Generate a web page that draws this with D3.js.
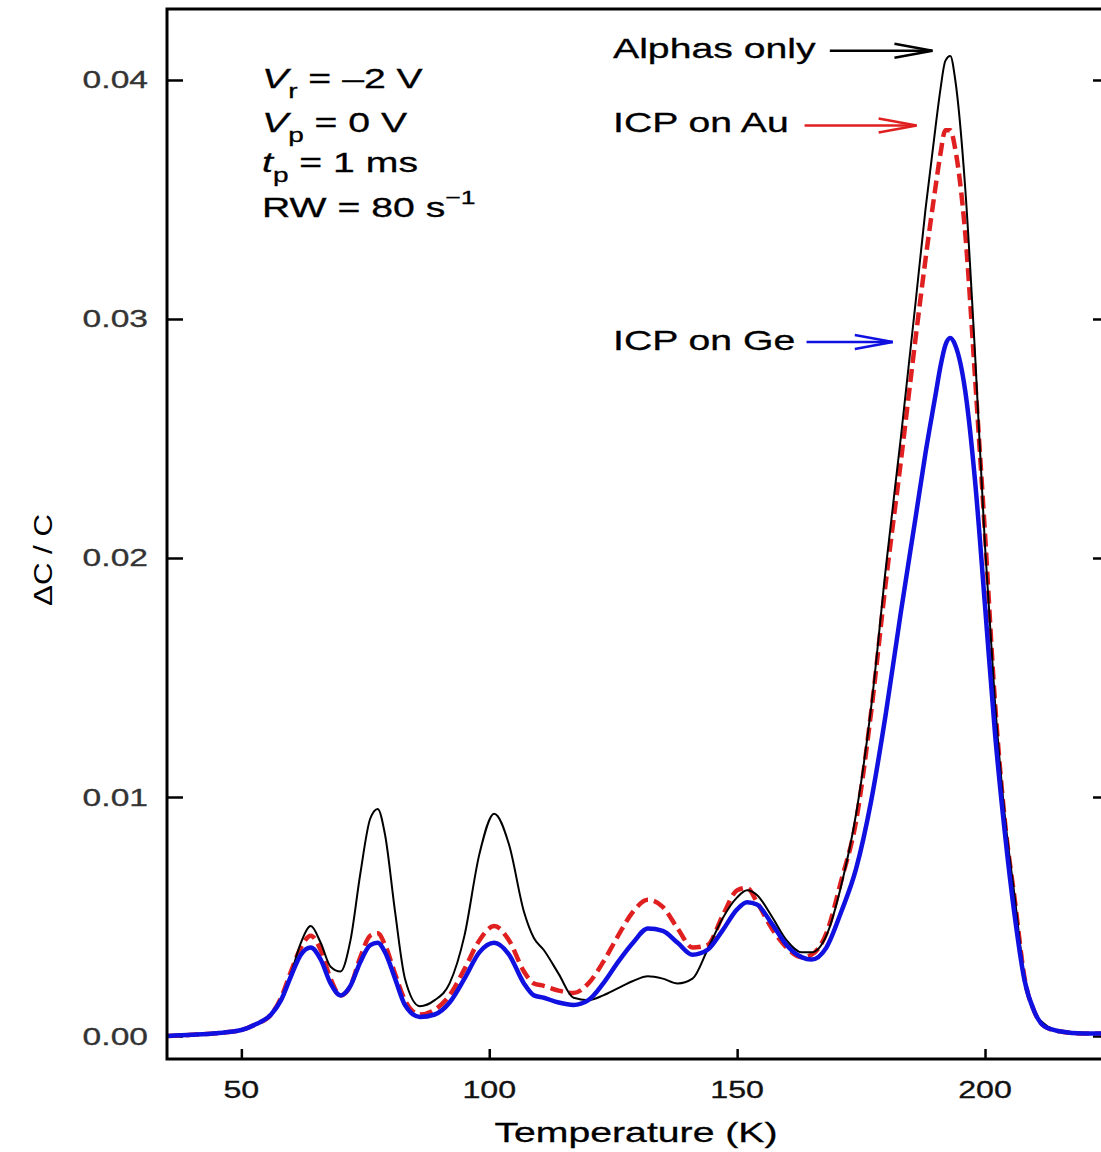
<!DOCTYPE html>
<html>
<head>
<meta charset="utf-8">
<script src="https://cdn.jsdelivr.net/npm/d3@7"></script>
<style>
  body { margin: 0; background: #fff; }
  svg { display: block; }
  text { font-family: "Liberation Sans", Arial, sans-serif; }
</style>
</head>
<body>
<div id="chart"></div>
<script>
// temperature grid (K)
var temps = [35, 40, 45, 50, 53, 56, 58, 60, 62, 64, 66, 68, 70, 72, 74, 76, 77.5, 79, 81, 83,
  86, 89, 92, 95, 98, 101, 104, 107, 109, 111, 114, 117, 120, 123, 126, 129, 132, 135, 138, 141,
  144, 147, 150, 152, 154, 157, 160, 163, 165, 168, 171, 174, 177, 180, 183, 186, 188, 190, 191, 192,
  193, 194, 196, 198, 200, 202, 204, 206, 208, 210, 212, 215, 220, 224];

// Alphas only
var alphas = [0.0000, 0.00005, 0.00012, 0.00025, 0.0005, 0.0009, 0.0015, 0.0026, 0.0039, 0.0046,
  0.0039, 0.0029, 0.0027, 0.0040, 0.0068, 0.0091, 0.0095, 0.0084, 0.0052, 0.0024,
  0.00125, 0.0015, 0.0022, 0.0042, 0.0076, 0.0093, 0.0080, 0.0052, 0.0041, 0.0036,
  0.0026, 0.0016, 0.0015, 0.0017, 0.0020, 0.0023, 0.0025, 0.0024, 0.0022, 0.0024,
  0.0036, 0.0049, 0.0058, 0.0061, 0.0059, 0.0050, 0.0040, 0.0035, 0.0035, 0.0042,
  0.0063, 0.0093, 0.0137, 0.0196, 0.0250, 0.0307, 0.0346, 0.0380, 0.0396, 0.0408,
  0.0410, 0.0400, 0.0355, 0.0285, 0.0205, 0.0140, 0.0092, 0.0058, 0.0024, 0.0010,
  0.0005, 0.0002, 0.0001, 0.0001];

// ICP on Au
var icpAu = [0.0000, 0.00005, 0.00012, 0.00025, 0.0005, 0.0009, 0.0016, 0.0027, 0.0037, 0.0042,
  0.0036, 0.0024, 0.0017, 0.0021, 0.0033, 0.0042, 0.0043, 0.0038, 0.0026, 0.0015,
  0.0009, 0.0011, 0.0017, 0.0028, 0.0040, 0.0046, 0.0040, 0.0027, 0.0022, 0.0021,
  0.0019, 0.0018, 0.0022, 0.0031, 0.0042, 0.0052, 0.0057, 0.0054, 0.0045, 0.0037,
  0.0038, 0.0050, 0.0061, 0.0062, 0.0056, 0.0045, 0.0037, 0.0033, 0.0034, 0.0043,
  0.0065, 0.0090, 0.0135, 0.0190, 0.0240, 0.0292, 0.0325, 0.0355, 0.0369, 0.0379,
  0.0379, 0.0371, 0.0336, 0.0275, 0.0210, 0.0140, 0.0090, 0.0057, 0.0024, 0.0010,
  0.0004, 0.0002, 0.0001, 0.0001];

// ICP on Ge
var icpGe = [0.0000, 0.00005, 0.00012, 0.00025, 0.0005, 0.0009, 0.0015, 0.0025, 0.0034, 0.0037,
  0.0032, 0.0022, 0.0017, 0.0021, 0.0031, 0.0038, 0.0039, 0.0035, 0.0024, 0.0013,
  0.0008, 0.0009, 0.0014, 0.0024, 0.0035, 0.0039, 0.0034, 0.0022, 0.0017, 0.0016,
  0.0014, 0.0013, 0.0015, 0.0022, 0.0031, 0.0039, 0.0045, 0.0044, 0.0039, 0.0034,
  0.0036, 0.0044, 0.0053, 0.0056, 0.0055, 0.0047, 0.0038, 0.0033, 0.0032, 0.0037,
  0.0052, 0.0070, 0.0098, 0.0135, 0.0177, 0.0217, 0.0244, 0.0268, 0.0280, 0.0289,
  0.0292, 0.0289, 0.0270, 0.0232, 0.0180, 0.0127, 0.0085, 0.0050, 0.0023, 0.0010,
  0.0004, 0.0002, 0.0001, 0.0001];

var xTicks = [50, 100, 150, 200];
var yTicks = [0, 0.01, 0.02, 0.03, 0.04];
var yTickLabels = ["0.00", "0.01", "0.02", "0.03", "0.04"];

var width = 1101, height = 1152;
var mLeft = 167, mRight = 1104, mTop = 9, mBottom = 1059;
var SX = 1.4; // the figure text is stretched horizontally

var svg = d3.select('#chart').append('svg')
  .attr('width', width)
  .attr('height', height);

var x = d3.scaleLinear().domain([35, 224]).range([mLeft, mRight]);
var y = d3.scaleLinear().domain([-0.000962, 0.04297]).range([mBottom, mTop]);

// ticks (inward)
svg.append('g')
  .attr('transform', 'translate(0,' + mBottom + ')')
  .call(d3.axisBottom(x).tickValues(xTicks).tickSize(-10).tickFormat(''))
  .call(g => g.select('.domain').remove())
  .selectAll('line').attr('stroke', '#000').attr('stroke-width', 2.5);

svg.append('g')
  .attr('transform', 'translate(' + mLeft + ',0)')
  .call(d3.axisLeft(y).tickValues(yTicks).tickSize(-16).tickFormat(''))
  .call(g => g.select('.domain').remove())
  .selectAll('line').attr('stroke', '#000').attr('stroke-width', 2.5);

svg.append('g')
  .attr('transform', 'translate(' + mRight + ',0)')
  .call(d3.axisRight(y).tickValues(yTicks).tickSize(-11).tickFormat(''))
  .call(g => g.select('.domain').remove())
  .selectAll('line').attr('stroke', '#000').attr('stroke-width', 2.5);

// curves
function series(vals) {
  return temps.map(function(t, i) { return [t, vals[i]]; });
}
var line = d3.line()
  .x(d => x(d[0]))
  .y(d => y(d[1]))
  .curve(d3.curveMonotoneX);

var plot = svg.append('g');
plot.append('path').datum(series(icpAu))
  .attr('fill', 'none').attr('stroke', '#e02020').attr('stroke-width', 4.5)
  .attr('stroke-dasharray', '13,6').attr('d', line);
plot.append('path').datum(series(alphas))
  .attr('fill', 'none').attr('stroke', '#000').attr('stroke-width', 2).attr('d', line);
plot.append('path').datum(series(icpGe))
  .attr('fill', 'none').attr('stroke', '#1010e0').attr('stroke-width', 4.5).attr('d', line);

// frame
svg.append('path')
  .attr('d', 'M' + mRight + ',' + mTop + 'H' + mLeft + 'V' + mBottom + 'H' + mRight)
  .attr('fill', 'none').attr('stroke', '#000').attr('stroke-width', 3);

// stretched text helper
function label(px, py, size, anchor, color) {
  return svg.append('text')
    .attr('transform', 'translate(' + px + ',' + py + ') scale(' + SX + ',1)')
    .attr('font-size', size)
    .attr('text-anchor', anchor || 'start')
    .attr('fill', color || '#000')
    .attr('stroke', color || '#000')
    .attr('stroke-width', 0.3);
}

// tick labels
yTicks.forEach(function(v, i) {
  label(148, y(v) + 8.5, 24, 'end', '#333').text(yTickLabels[i]);
});
xTicks.forEach(function(t) {
  label(x(t), 1098, 23, 'middle', '#111').text(t);
});

// axis titles
label(636, 1142, 28, 'middle').text('Temperature (K)');
svg.append('text')
  .attr('transform', 'translate(52,560) scale(1.05,1.3) rotate(-90)')
  .attr('font-size', 24)
  .attr('text-anchor', 'middle')
  .text('\u0394C / C');

// parameter block
var t1 = label(262, 88, 28);
t1.append('tspan').attr('font-style', 'italic').text('V');
t1.append('tspan').attr('font-size', 20).attr('dy', 10).text('r');
t1.append('tspan').attr('dy', -10).text(' = \u20132 V');

var t2 = label(262, 132, 28);
t2.append('tspan').attr('font-style', 'italic').text('V');
t2.append('tspan').attr('font-size', 20).attr('dy', 10).text('p');
t2.append('tspan').attr('dy', -10).text(' = 0 V');

var t3 = label(262, 172, 28);
t3.append('tspan').attr('font-style', 'italic').text('t');
t3.append('tspan').attr('font-size', 20).attr('dy', 10).text('p');
t3.append('tspan').attr('dy', -10).text(' = 1 ms');

var t4 = label(262, 217, 28);
t4.append('tspan').text('RW = 80 s');
t4.append('tspan').attr('font-size', 19).attr('dy', -13).text('\u22121');

// series labels with arrows (tip in data coordinates)
var arrows = [
  { name: 'Alphas only', color: '#000', from: 168.7, tip: 189.4, v: 0.04122, ty: 58 },
  { name: 'ICP on Au', color: '#e02020', from: 163.6, tip: 186.2, v: 0.0381, ty: 132 },
  { name: 'ICP on Ge', color: '#1010e0', from: 164.0, tip: 181.4, v: 0.02904, ty: 350 }
];
arrows.forEach(function(a) {
  label(613, a.ty, 28).text(a.name);
  var x0 = x(a.from), x1 = x(a.tip), yy = y(a.v);
  var g = svg.append('g').attr('stroke', a.color).attr('stroke-width', 2.5).attr('fill', 'none');
  g.append('line').attr('x1', x0).attr('y1', yy).attr('x2', x1).attr('y2', yy);
  g.append('path').attr('d', 'M' + (x1 - 38) + ',' + (yy - 7) + 'L' + x1 + ',' + yy + 'L' + (x1 - 38) + ',' + (yy + 7));
});
</script>
</body>
</html>
